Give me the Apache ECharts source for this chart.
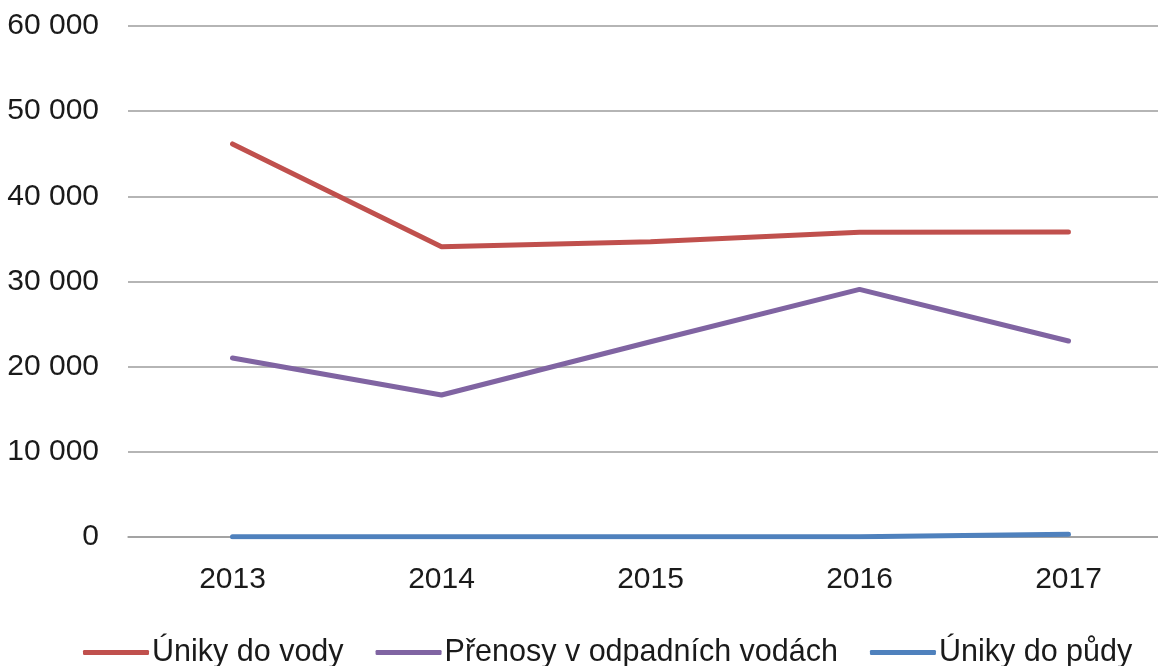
<!DOCTYPE html>
<html><head><meta charset="utf-8">
<script src="https://cdn.jsdelivr.net/npm/echarts@6/dist/echarts.min.js"></script>
<style>html,body{margin:0;padding:0;background:#fff}#c{width:1158px;height:666px}</style>
</head><body><div id="c"></div>
<script>
const categories = ['2013', '2014', '2015', '2016', '2017'];
const unikyVoda = [46150, 34080, 34670, 35770, 35800];
const prenosy = [21020, 16670, 22930, 29080, 23010];
const unikyPuda = [20, 20, 20, 20, 310];
const seriesNames = ['Úniky do vody', 'Přenosy v odpadních vodách', 'Úniky do půdy'];
const yTicks = [0, 10000, 20000, 30000, 40000, 50000, 60000];

const font = 'Liberation Sans';
const chart = echarts.init(document.getElementById('c'));
function fmt(v) { return String(v).replace(/\B(?=(\d{3})+(?!\d))/g, ' '); }
chart.setOption({
  animation: false,
  color: ['#C0504D', '#8064A2', '#4F81BD'],
  grid: { left: 128, width: 1045, top: 26, height: 511, containLabel: false, outerBoundsMode: 'none' },
  legend: {
    data: seriesNames,
    left: 78, top: 632,
    icon: 'roundRect',
    itemWidth: 66, itemHeight: 5, itemGap: 32,
    textStyle: { fontFamily: font, fontSize: 30.5, color: '#1a1a1a', padding: [0, 0, 0, -2] }
  },
  xAxis: {
    type: 'category', data: categories, boundaryGap: true,
    axisLine: { lineStyle: { color: '#9d9d9d', width: 1.5 } },
    axisTick: { show: false },
    axisLabel: { fontFamily: font, fontSize: 30, color: '#1a1a1a', margin: 28 }
  },
  yAxis: {
    type: 'value', min: yTicks[0], max: yTicks[yTicks.length - 1], interval: 10000,
    axisLine: { show: false }, axisTick: { show: false },
    splitLine: { lineStyle: { color: '#9d9d9d', width: 1.5 } },
    axisLabel: { fontFamily: font, fontSize: 30, color: '#1a1a1a', margin: 29, formatter: fmt }
  },
  series: [
    { name: seriesNames[0], type: 'line', data: unikyVoda, symbol: 'none', lineStyle: { width: 5, cap: 'round' } },
    { name: seriesNames[1], type: 'line', data: prenosy, symbol: 'none', lineStyle: { width: 5, cap: 'round' } },
    { name: seriesNames[2], type: 'line', data: unikyPuda, symbol: 'none', lineStyle: { width: 5, cap: 'round' } }
  ]
});
</script></body></html>
